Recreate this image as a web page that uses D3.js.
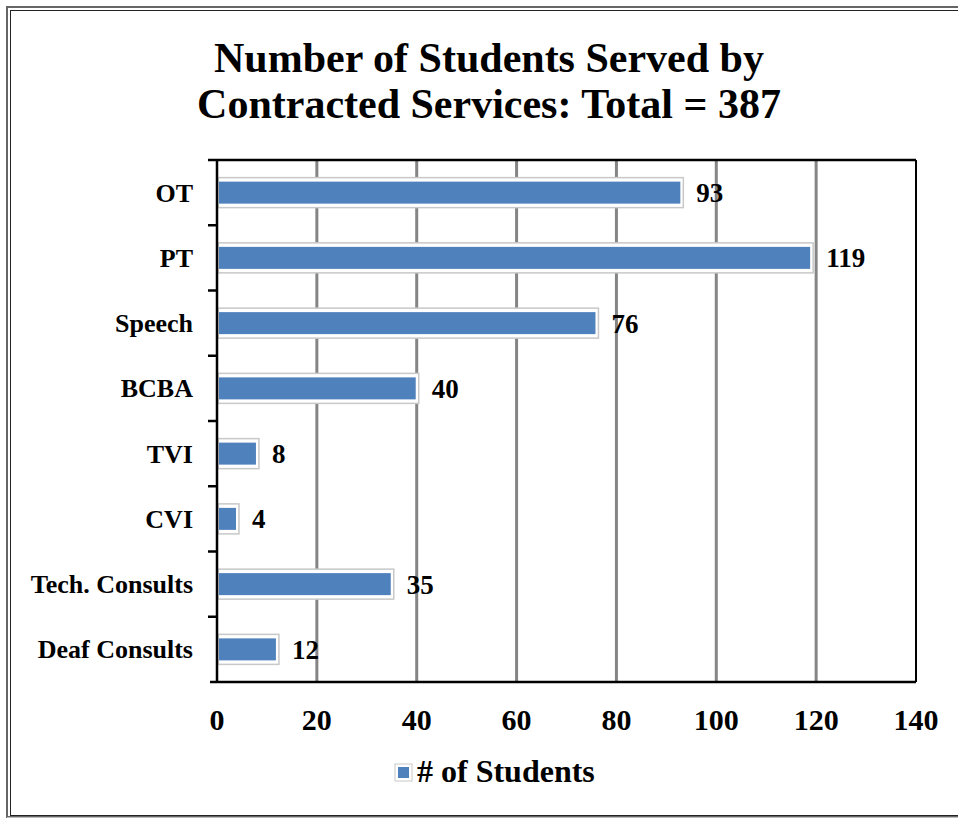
<!DOCTYPE html>
<meta charset="utf-8">
<script src="https://d3js.org/d3.v7.min.js"></script>
<style>
  body { margin: 0; background: #fff; }
  svg text { font-family: "Liberation Serif", "Times New Roman", serif; font-weight: bold; fill: #000; }
</style>
<div id="chart"></div>
<script>

// data
var categories = ["OT", "PT", "Speech", "BCBA", "TVI", "CVI", "Tech. Consults", "Deaf Consults"];
var students = [93, 119, 76, 40, 8, 4, 35, 12];
var xTicks = [0, 20, 40, 60, 80, 100, 120, 140];
var titleLines = ["Number of Students Served by", "Contracted Services: Total = 387"];
var seriesName = "# of Students";

var W = 958, H = 819;
var margin = {top: 160, right: 42, bottom: 137, left: 217},
    width = W - margin.left - margin.right,
    height = H - margin.top - margin.bottom;

var svg = d3.select("#chart").append("svg")
  .attr("width", W)
  .attr("height", H);

// outer frame
svg.append("rect").attr("x", 7).attr("y", 7).attr("width", 960).attr("height", 810)
  .attr("fill", "none").attr("stroke", "#666").attr("stroke-width", 2);
svg.append("rect").attr("x", 10.5).attr("y", 10.5).attr("width", 960).attr("height", 805)
  .attr("fill", "none").attr("stroke", "#222").attr("stroke-width", 1);
svg.append("line").attr("x1", 7).attr("x2", W).attr("y1", 817.5).attr("y2", 817.5)
  .attr("stroke", "#bbb").attr("stroke-width", 1);

// title
svg.append("text")
  .attr("text-anchor", "middle")
  .attr("font-size", 42)
  .selectAll("tspan")
  .data(titleLines)
  .join("tspan")
    .attr("x", 489)
    .attr("y", function(d, i) { return 72 + i * 46; })
    .text(function(d) { return d; });

var g = svg.append("g")
  .attr("transform", "translate(" + margin.left + "," + margin.top + ")");

var x = d3.scaleLinear().domain([0, 140]).range([0, width]);
var y = d3.scaleBand().domain(categories).range([0, height]);

// vertical gridlines
g.selectAll(".grid")
  .data(xTicks.slice(1, -1))
  .join("line")
    .attr("x1", function(d) { return x(d); })
    .attr("x2", function(d) { return x(d); })
    .attr("y1", 0).attr("y2", height)
    .attr("stroke", "#858585").attr("stroke-width", 3);

// plot border (top and right)
g.append("line").attr("x1", -9).attr("x2", width).attr("y1", 0).attr("y2", 0)
  .attr("stroke", "#000").attr("stroke-width", 2.5);
g.append("line").attr("x1", width).attr("x2", width).attr("y1", 0).attr("y2", height)
  .attr("stroke", "#000").attr("stroke-width", 2);

// bars: white outline box + blue bar
var barH = 22, pad = 4;
var bars = g.selectAll(".bar")
  .data(students)
  .join("g")
    .attr("transform", function(d, i) {
      return "translate(0," + (y(categories[i]) + y.bandwidth() / 2) + ")";
    });

bars.append("rect")
  .attr("x", 1)
  .attr("y", -barH / 2 - pad)
  .attr("width", function(d) { return x(d) + 1; })
  .attr("height", barH + 2 * pad)
  .attr("fill", "#fff")
  .attr("stroke", "#c8c8c8")
  .attr("stroke-width", 1.5);

bars.append("rect")
  .attr("x", 2)
  .attr("y", -barH / 2)
  .attr("width", function(d) { return x(d) - 3; })
  .attr("height", barH)
  .attr("fill", "#4f81bd");

bars.append("text")
  .attr("x", function(d) { return x(d) + 15; })
  .attr("dy", "0.35em")
  .attr("font-size", 27)
  .text(function(d) { return d; });

// y axis with ticks between categories
var yAxis = g.append("g");
yAxis.append("line").attr("x1", 0).attr("x2", 0).attr("y1", 0).attr("y2", height)
  .attr("stroke", "#000").attr("stroke-width", 2.5);
yAxis.selectAll(".tick")
  .data(categories.slice(1))
  .join("line")
    .attr("x1", -9).attr("x2", 0)
    .attr("y1", function(d) { return y(d); })
    .attr("y2", function(d) { return y(d); })
    .attr("stroke", "#000").attr("stroke-width", 2.5);
yAxis.selectAll(".lab")
  .data(categories)
  .join("text")
    .attr("x", -24)
    .attr("y", function(d) { return y(d) + y.bandwidth() / 2; })
    .attr("dy", "0.35em")
    .attr("text-anchor", "end")
    .attr("font-size", 26)
    .text(function(d) { return d; });

// x axis
var xAxis = g.append("g").attr("transform", "translate(0," + height + ")");
xAxis.append("line").attr("x1", -7).attr("x2", width).attr("y1", 0).attr("y2", 0)
  .attr("stroke", "#000").attr("stroke-width", 2.5);
xAxis.selectAll("text")
  .data(xTicks)
  .join("text")
    .attr("x", function(d) { return x(d); })
    .attr("y", 48)
    .attr("text-anchor", "middle")
    .attr("font-size", 30)
    .text(function(d) { return d; });

// legend
var legend = svg.append("g").attr("transform", "translate(395,764)");
legend.append("rect").attr("x", 0).attr("y", 0).attr("width", 17).attr("height", 17)
  .attr("fill", "#fff").attr("stroke", "#c8c8c8");
legend.append("rect").attr("x", 3).attr("y", 3).attr("width", 11).attr("height", 11)
  .attr("fill", "#4f81bd");
legend.append("text").attr("x", 22).attr("y", 18).attr("font-size", 32).text(seriesName);

</script>
